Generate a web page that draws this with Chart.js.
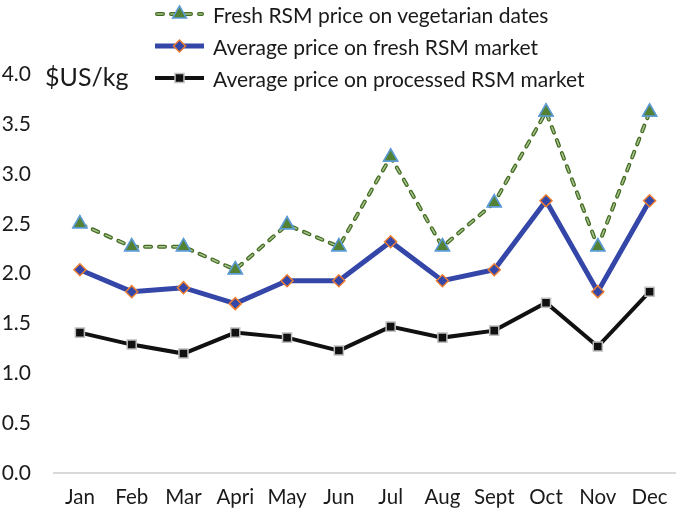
<!DOCTYPE html>
<html lang="en">
  <head>
    <meta charset="UTF-8" />
    <title>RSM prices by month</title>
    <script src="https://cdn.jsdelivr.net/npm/chart.js"></script>
    <style>
      body {
        margin: 0;
        background: #fff;
        font-family: Lato, "Liberation Sans", sans-serif;
        color: #1a1a1a;
      }
      #wrap {
        position: relative;
        width: 685px;
        height: 509px;
      }
      .unit {
        position: absolute;
        left: 45px;
        top: 61px;
        font-size: 25px;
        line-height: 30px;
      }
      .legend {
        position: absolute;
        left: 155px;
        top: -2px;
      }
      .legend div {
        height: 32px;
        display: flex;
        align-items: center;
        font-size: 21px;
        white-space: nowrap;
      }
      .legend svg {
        margin-right: 9px;
      }
    </style>
  </head>
  <body>
    <div id="wrap">
      <canvas id="priceChart"></canvas>
      <div class="unit">$US/kg</div>
      <div class="legend">
        <div>
          <svg width="49" height="20">
            <line x1="2" y1="10" x2="47" y2="10" stroke="#436b22" stroke-width="4" stroke-linecap="round" stroke-dasharray="6 8" />
            <line x1="2" y1="10" x2="47" y2="10" stroke="#a9c48f" stroke-width="1.5" stroke-linecap="round" stroke-dasharray="6 8" />
            <polygon points="24.5,2 31.5,14 17.5,14" fill="#548235" stroke="#5b9bd5" stroke-width="1.5" />
          </svg>
          <span>Fresh RSM price on vegetarian dates</span>
        </div>
        <div>
          <svg width="49" height="20">
            <line x1="0" y1="10" x2="49" y2="10" stroke="#3446a8" stroke-width="5" />
            <polygon points="24.5,4 30.5,10 24.5,16 18.5,10" fill="#3446a8" stroke="#ed7d31" stroke-width="1.5" />
          </svg>
          <span>Average price on fresh RSM market</span>
        </div>
        <div>
          <svg width="49" height="20">
            <line x1="0" y1="10" x2="49" y2="10" stroke="#111" stroke-width="4" />
            <rect x="20" y="5.5" width="9" height="9" fill="#111" stroke="#bfbfbf" stroke-width="1.5" />
          </svg>
          <span>Average price on processed RSM market</span>
        </div>
      </div>
    </div>

    <script>
      const months = ["Jan", "Feb", "Mar", "Apri", "May", "Jun", "Jul", "Aug", "Sept", "Oct", "Nov", "Dec"];
      const yTicks = [0, 0.5, 1, 1.5, 2, 2.5, 3, 3.5, 4];

      const vegetarianDates = [2.5, 2.27, 2.27, 2.04, 2.49, 2.27, 3.17, 2.27, 2.71, 3.62, 2.27, 3.62];
      const freshMarket = [2.04, 1.82, 1.86, 1.7, 1.93, 1.93, 2.32, 1.93, 2.04, 2.73, 1.82, 2.73];
      const processedMarket = [1.41, 1.29, 1.2, 1.41, 1.36, 1.23, 1.47, 1.36, 1.43, 1.71, 1.27, 1.82];

      const fontFamily = "Lato, 'Liberation Sans', sans-serif";

      // inner pale stroke inside the dashed green line, then markers again on top
      const dashGlow = {
        id: "dashGlow",
        afterDatasetDraw(chart, args) {
          if (args.index !== 0) return;
          const pts = args.meta.data;
          const ctx = chart.ctx;
          ctx.save();
          ctx.beginPath();
          pts.forEach((p, i) => (i === 0 ? ctx.moveTo(p.x, p.y) : ctx.lineTo(p.x, p.y)));
          ctx.setLineDash([6, 8]);
          ctx.lineCap = "round";
          ctx.lineJoin = "round";
          ctx.lineWidth = 1.5;
          ctx.strokeStyle = "#a9c48f";
          ctx.stroke();
          ctx.restore();
          pts.forEach((p) => p.draw(ctx, chart.chartArea));
        },
      };

      const ctx = document.getElementById("priceChart").getContext("2d");
      new Chart(ctx, {
        type: "line",
        data: {
          labels: months,
          datasets: [
            {
              label: "Fresh RSM price on vegetarian dates",
              data: vegetarianDates,
              borderColor: "#436b22",
              borderWidth: 4,
              borderDash: [6, 8],
              borderCapStyle: "round",
              pointStyle: "triangle",
              pointRadius: 8,
              pointBackgroundColor: "#548235",
              pointBorderColor: "#5b9bd5",
              pointBorderWidth: 1.5,
              tension: 0,
              order: 3,
            },
            {
              label: "Average price on fresh RSM market",
              data: freshMarket,
              borderColor: "#3446a8",
              borderWidth: 5,
              pointStyle: "rectRot",
              pointRadius: 6,
              pointBackgroundColor: "#3446a8",
              pointBorderColor: "#ed7d31",
              pointBorderWidth: 1.5,
              tension: 0,
              order: 2,
            },
            {
              label: "Average price on processed RSM market",
              data: processedMarket,
              borderColor: "#111111",
              borderWidth: 4,
              pointStyle: "rect",
              pointRadius: 6.4,
              pointBackgroundColor: "#111111",
              pointBorderColor: "#bfbfbf",
              pointBorderWidth: 1.5,
              tension: 0,
              order: 1,
            },
          ],
        },
        options: {
          responsive: true,
          maintainAspectRatio: false,
          animation: false,
          layout: { padding: { top: 74, right: -1.5, left: 0, bottom: 0 } },
          plugins: {
            legend: { display: false },
            tooltip: { enabled: false },
          },
          scales: {
            x: {
              offset: true,
              grid: { display: false, drawTicks: false },
              border: { display: true, color: "#d9d9d9", width: 2 },
              ticks: {
                color: "#1a1a1a",
                font: { family: fontFamily, size: 20.5 },
                padding: 12,
                maxRotation: 0,
                autoSkip: false,
              },
              afterFit: (scale) => {
                scale.height = 34.4;
                scale.paddingLeft = 0;
                scale.paddingRight = 0;
              },
            },
            y: {
              min: 0,
              max: 4,
              grid: { display: false, drawTicks: false },
              border: { display: false },
              afterBuildTicks: (scale) => {
                scale.ticks = yTicks.map((v) => ({ value: v }));
              },
              ticks: {
                color: "#1a1a1a",
                font: { family: fontFamily, size: 21 },
                padding: 23,
                callback: (v) => Number(v).toFixed(1),
              },
              afterFit: (scale) => {
                scale.width = 54;
              },
            },
          },
        },
        plugins: [dashGlow],
      });
    </script>
  </body>
</html>
